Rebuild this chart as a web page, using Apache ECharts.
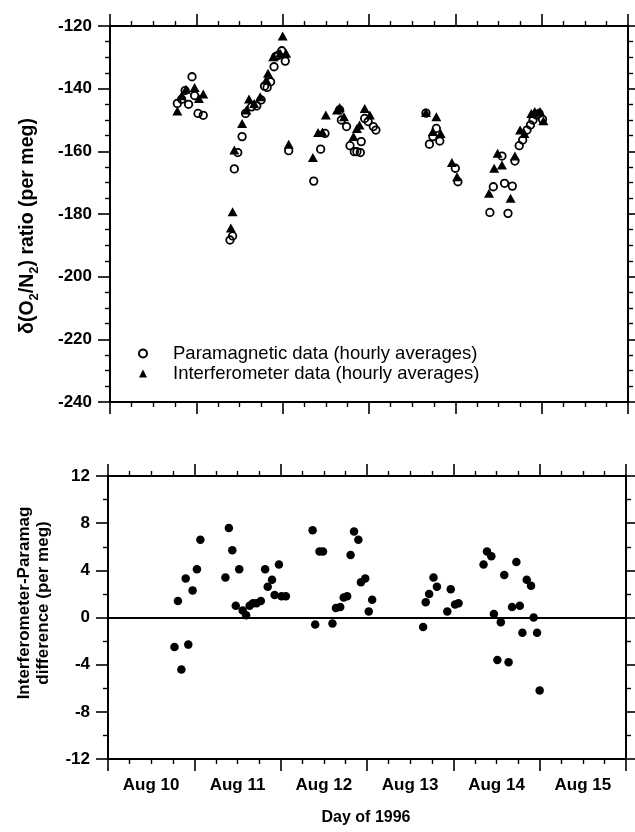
<!DOCTYPE html>
<html>
<head>
<meta charset="utf-8">
<script src="https://cdn.jsdelivr.net/npm/echarts@6/dist/echarts.min.js"></script>
<style>
html,body{margin:0;padding:0;background:#fff;}
#c{width:635px;height:832px;}
</style>
</head>
<body>
<div id="c"></div>
<script>
// Day of 1996 (Aug 10 00:00 = day 223)
const xLabels = ['Aug 10', 'Aug 11', 'Aug 12', 'Aug 13', 'Aug 14', 'Aug 15'];
const firstDay = 223;

// Paramagnetic data (hourly averages)
const paraDay = [223.78,223.83,223.87,223.91,223.95,223.98,224.02,224.08,
  224.39,224.42,224.44,224.48,224.53,224.57,224.64,224.70,224.75,224.79,224.82,224.86,224.90,224.92,224.95,224.99,225.03,225.07,
  225.36,225.44,225.49,225.66,225.68,225.74,225.78,225.83,225.86,225.90,225.91,225.95,225.99,226.05,226.08,
  226.66,226.70,226.74,226.78,226.82,227.00,227.03,
  227.40,227.44,227.54,227.57,227.61,227.66,227.69,227.74,227.78,227.83,227.87,227.90,227.94,227.97,228.01];
const paraVal = [-144.7,-143.4,-140.6,-145.0,-136.2,-142.2,-147.9,-148.5,
  -188.3,-187.0,-165.6,-160.4,-155.3,-147.9,-145.8,-145.5,-143.6,-139.2,-139.6,-137.8,-133.0,-129.8,-129.3,-127.9,-131.2,-159.8,
  -169.5,-159.3,-154.3,-146.8,-150.0,-152.1,-158.2,-160.1,-160.1,-160.4,-156.9,-149.5,-150.5,-152.1,-153.2,
  -147.8,-157.7,-155.3,-152.7,-156.7,-165.4,-169.7,
  -179.5,-171.3,-161.5,-170.2,-179.8,-171.1,-163.1,-158.2,-156.4,-153.2,-151.6,-150.0,-148.4,-147.9,-149.8];

// Interferometer data (hourly averages)
const interDay = [223.78,223.83,223.88,223.98,224.03,224.08,
  224.40,224.42,224.44,224.53,224.58,224.61,224.67,224.74,224.81,224.83,224.89,224.97,225.00,225.04,225.07,
  225.35,225.41,225.46,225.50,225.63,225.66,225.71,225.82,225.86,225.89,225.95,226.01,
  226.66,226.74,226.78,226.83,226.96,227.02,
  227.39,227.45,227.49,227.54,227.64,227.69,227.75,227.80,227.88,227.92,227.98,228.02];
const interVal = [-147.1,-142.3,-140.2,-139.6,-143.1,-141.7,
  -184.5,-179.3,-159.6,-151.1,-146.8,-143.3,-144.7,-142.6,-137.2,-135.1,-129.8,-128.7,-123.2,-128.7,-157.7,
  -162.0,-154.0,-153.8,-148.4,-146.8,-146.0,-149.0,-155.3,-152.7,-151.6,-146.3,-148.4,
  -147.6,-153.7,-149.0,-154.3,-163.6,-168.1,
  -173.4,-165.4,-160.6,-164.4,-175.0,-161.5,-153.2,-154.3,-147.9,-147.3,-147.3,-150.2];

// Interferometer - Paramagnetic difference (per meg)
const diffDay = [223.77,223.81,223.85,223.90,223.93,223.98,224.03,224.07,
  224.36,224.40,224.44,224.48,224.52,224.56,224.60,224.64,224.68,224.72,224.77,224.82,224.85,224.90,224.93,224.98,225.01,225.06,
  225.37,225.40,225.45,225.49,225.60,225.64,225.69,225.73,225.77,225.81,225.85,225.90,225.93,225.98,226.02,226.06,
  226.65,226.68,226.72,226.77,226.81,226.93,226.97,227.02,227.06,
  227.35,227.39,227.44,227.47,227.51,227.55,227.59,227.64,227.68,227.73,227.77,227.80,227.85,227.90,227.93,227.97,228.00];
const diffVal = [-2.5,1.4,-4.4,3.3,-2.3,2.3,4.1,6.6,
  3.4,7.6,5.7,1.0,4.1,0.6,0.2,1.0,1.2,1.2,1.4,4.1,2.6,3.2,1.9,4.5,1.8,1.8,
  7.4,-0.6,5.6,5.6,-0.5,0.8,0.9,1.7,1.8,5.3,7.3,6.6,3.0,3.3,0.5,1.5,
  -0.8,1.3,2.0,3.4,2.6,0.5,2.4,1.1,1.2,
  4.5,5.6,5.2,0.3,-3.6,-0.4,3.6,-3.8,0.9,4.7,1.0,-1.3,3.2,2.7,0.0,-1.3,-6.2];

const zip = (a, b) => a.map((v, i) => [v, b[i]]);

const FONT = '"Liberation Sans", Arial, Helvetica, sans-serif';
const BLACK = '#000';

function xAxisDef(grid, pos) {
  return {
    type: 'value', gridIndex: grid, position: pos,
    min: firstDay, max: firstDay + 6, interval: 1,
    axisLine: { show: true, onZero: false, lineStyle: { color: BLACK, width: 2 } },
    axisTick: { show: true, inside: false, length: 12, lineStyle: { color: BLACK, width: 1.6 } },
    minorTick: { show: true, splitNumber: 4, length: 5, lineStyle: { color: BLACK, width: 1.4 } },
    axisLabel: { show: false },
    splitLine: { show: false }
  };
}
function yAxisDef(grid, pos, min, max, interval, split, showLabel) {
  return {
    type: 'value', gridIndex: grid, position: pos,
    min: min, max: max, interval: interval,
    axisLine: { show: true, onZero: false, lineStyle: { color: BLACK, width: 2 } },
    axisTick: { show: true, inside: false, length: 12, lineStyle: { color: BLACK, width: 1.6 } },
    minorTick: { show: true, splitNumber: split, length: 5, lineStyle: { color: BLACK, width: 1.4 } },
    axisLabel: { show: showLabel, color: BLACK, fontFamily: FONT, fontWeight: 'bold', fontSize: 17, margin: 18 },
    splitLine: { show: false }
  };
}

const labelAxis = {
  type: 'value', gridIndex: 1, position: 'bottom',
  min: firstDay, max: firstDay + 6, interval: 0.5,
  axisLine: { show: false, onZero: false },
  axisTick: { show: false },
  splitLine: { show: false },
  axisLabel: {
    show: true, color: BLACK, fontFamily: FONT, fontWeight: 'bold', fontSize: 17, margin: 18,
    formatter: function (v) {
      const k = v - firstDay - 0.5;
      const r = Math.round(k);
      if (Math.abs(k - r) < 1e-6 && r >= 0 && r < xLabels.length) return xLabels[r];
      return '';
    }
  }
};

const chart = echarts.init(document.getElementById('c'), null, { renderer: 'canvas' });
chart.setOption({
  backgroundColor: '#fff',
  animation: false,
  textStyle: { fontFamily: FONT },
  grid: [
    { left: 110, top: 26, width: 518, height: 376 },
    { left: 108, top: 476, width: 518, height: 283 }
  ],
  xAxis: [
    xAxisDef(0, 'bottom'), xAxisDef(0, 'top'),
    xAxisDef(1, 'bottom'), xAxisDef(1, 'top'),
    labelAxis
  ],
  yAxis: [
    yAxisDef(0, 'left', -240, -120, 20, 4, true), yAxisDef(0, 'right', -240, -120, 20, 4, false),
    yAxisDef(1, 'left', -12, 12, 4, 2, true), yAxisDef(1, 'right', -12, 12, 4, 2, false)
  ],
  legend: {
    orient: 'vertical', left: 138, top: 344, padding: 0,
    itemWidth: 8, itemHeight: 8, itemGap: 1,
    selectedMode: false,
    textStyle: { color: BLACK, fontFamily: FONT, fontSize: 18.5, lineHeight: 19, padding: [0, 0, 0, 21] },
    data: ['Paramagnetic data (hourly averages)', 'Interferometer data (hourly averages)']
  },
  series: [
    {
      name: 'Paramagnetic data (hourly averages)', type: 'scatter',
      xAxisIndex: 0, yAxisIndex: 0,
      symbol: 'circle', symbolSize: 7.5,
      itemStyle: { color: 'rgba(255,255,255,0)', borderColor: BLACK, borderWidth: 1.8, opacity: 1 },
      data: zip(paraDay, paraVal)
    },
    {
      name: 'Interferometer data (hourly averages)', type: 'scatter',
      xAxisIndex: 0, yAxisIndex: 0,
      symbol: 'triangle', symbolSize: [10, 9],
      itemStyle: { color: BLACK, opacity: 1 },
      data: zip(interDay, interVal)
    },
    {
      name: 'difference', type: 'scatter',
      xAxisIndex: 2, yAxisIndex: 2,
      symbol: 'circle', symbolSize: 8.5,
      itemStyle: { color: BLACK, opacity: 1 },
      data: zip(diffDay, diffVal),
      markLine: {
        silent: true, symbol: 'none', label: { show: false },
        lineStyle: { color: BLACK, width: 2, type: 'solid', opacity: 1 },
        data: [{ yAxis: 0 }]
      }
    }
  ],
  graphic: [
    {
      type: 'text', x: 27, y: 226, rotation: Math.PI / 2,
      style: {
        text: '{a|δ(O}{s|2}{a|/N}{s|2}{a|) ratio (per meg)}',
        align: 'center', verticalAlign: 'middle', fill: BLACK,
        rich: {
          a: { fontFamily: FONT, fontWeight: 'bold', fontSize: 19.5, lineHeight: 22, verticalAlign: 'bottom' },
          s: { fontFamily: FONT, fontWeight: 'bold', fontSize: 13, lineHeight: 22, verticalAlign: 'bottom', padding: [0, 0, -3, 0] }
        }
      }
    },
    {
      type: 'text', x: 34, y: 603, rotation: Math.PI / 2,
      style: {
        text: 'Interferometer-Paramag\ndifference (per meg)',
        align: 'center', verticalAlign: 'middle', fill: BLACK,
        fontFamily: FONT, fontWeight: 'bold', fontSize: 17, lineHeight: 19
      }
    },
    {
      type: 'text', x: 366, y: 818,
      style: {
        text: 'Day of 1996', align: 'center', verticalAlign: 'middle', fill: BLACK,
        fontFamily: FONT, fontWeight: 'bold', fontSize: 16
      }
    }
  ]
});
</script>
</body>
</html>
